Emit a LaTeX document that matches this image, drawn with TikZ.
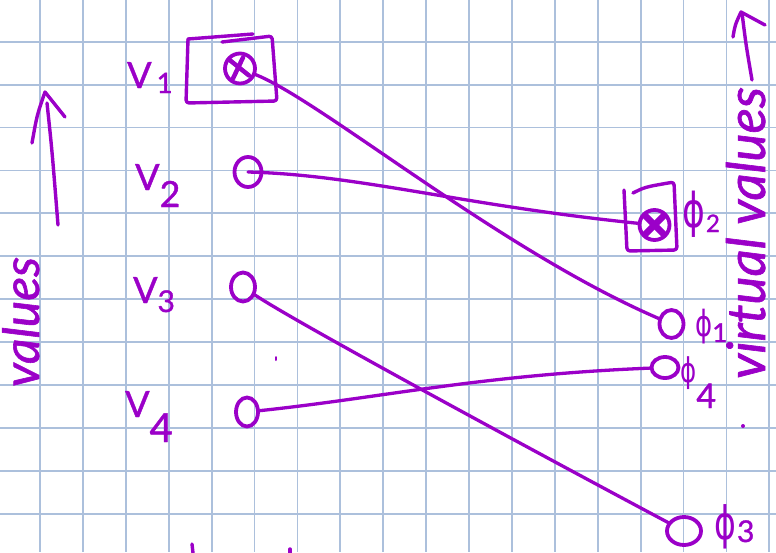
\documentclass[tikz,border=0pt]{standalone}
\usepackage{fontspec}
\setmainfont{Lato}[FakeBold=1.2]
\newfontfamily\phifont{DejaVu Sans}
\usetikzlibrary{shapes.geometric}
\definecolor{ink}{RGB}{155,0,200}
\definecolor{gridblue}{RGB}{172,192,220}
% label with a large, lowered index: #1 symbol, #2 index, #3 drop, #4 gap, #5 index size
\newcommand\sublbl[5]{#1\hspace{#4}\raisebox{-#3}{\fontsize{#5}{#5}\selectfont #2}}
% narrow upright phi
\newcommand\nphi{{\phifont\scalebox{0.72}[1]{ϕ}}}
\begin{document}
\begin{tikzpicture}[x=1pt,y=-1pt,
  pen/.style={draw=ink, line width=3.4pt, line cap=round, line join=round},
  vertex/.style={ellipse, draw=ink, line width=3.8pt, inner sep=0pt},
  edge/.style={draw=ink, line width=3.3pt, line cap=round},
  vlabel/.style={text=ink, inner sep=0pt, anchor=base west, font=\fontsize{36}{36}\selectfont},
  plabel/.style={text=ink, inner sep=0pt, anchor=base west},
  sidetext/.style={text=ink, inner sep=0pt, rotate=90, anchor=base},
]
\useasboundingbox (0,0) rectangle (776,552);
\fill[white] (0,0) rectangle (776,552);

% squared paper
\foreach \k in {0,...,17}
  \draw[gridblue, line width=1.8pt] ({40+42.9*\k},0) -- ({40+42.9*\k},552);
\foreach \k in {0,...,11}
  \draw[gridblue, line width=1.8pt] (0,{41.7+42.9*\k}) -- (776,{41.7+42.9*\k});

% value vertices
\node[vertex, minimum width=30pt, minimum height=30pt] (v1) at (240,68.5) {};
\node[vertex, minimum width=27pt, minimum height=30pt] (v2) at (248,172) {};
\node[vertex, minimum width=24pt, minimum height=29pt] (v3) at (243,287) {};
\node[vertex, minimum width=22pt, minimum height=29pt] (v4) at (247,412) {};

% virtual value vertices
\node[vertex, minimum width=30pt, minimum height=30pt] (p2) at (654.5,225) {};
\node[vertex, minimum width=24pt, minimum height=28pt] (p1) at (671.5,324) {};
\node[vertex, minimum width=27pt, minimum height=21pt] (p4) at (665,367.5) {};
\node[vertex, minimum width=34pt, minimum height=28pt] (p3) at (684,531) {};

% crosses and frames on the selected vertices
\draw[pen, line width=4.5pt] ([shift={(-11,-9)}]v1.center) -- ([shift={(9,7)}]v1.center);
\draw[pen, line width=4.5pt] ([shift={(3,-11)}]v1.center) -- ([shift={(-7,10)}]v1.center);
\draw[pen, rounded corners=3pt] (188,39) -- (186,103) -- (277,101) -- (272,36) -- (222,42);
\draw[pen] (188,39) -- (253,34);

\draw[pen, line width=6.5pt] ([shift={(-9,-9)}]p2.center) -- ([shift={(9,9)}]p2.center);
\draw[pen, line width=6.5pt] ([shift={(9,-9)}]p2.center) -- ([shift={(-9,9)}]p2.center);
\draw[pen, rounded corners=3pt] (633,193) .. controls (645,187) .. (674,182) -- (677,250) -- (627,251) -- (624,190);

% assignments
\draw[edge] (v1) .. controls (320,100) and (500,250) .. (p1);
\draw[edge] (v2.center) .. controls (360,175) and (460,205) .. (p2);
\draw[edge] (v3) .. controls (300,325) and (560,465) .. (p3);
\draw[edge] (v4) .. controls (380,398) and (480,375) .. (p4);

% vertex labels
\node[vlabel] (l1) at (127,88) {\sublbl{V}{1}{5pt}{5pt}{28pt}};
\node[vlabel] (l2) at (135,190) {\sublbl{V}{2}{17pt}{0pt}{36pt}};
\node[vlabel] (l3) at (133,303) {\sublbl{V}{3}{9pt}{0pt}{30pt}};
\node[vlabel] (l4) at (125,417) {\sublbl{V}{4}{25pt}{0pt}{40pt}};

\node[plabel, font=\fontsize{48}{48}\selectfont] (q2) at (682,227) {\sublbl{\nphi}{2}{5pt}{1pt}{24pt}};
\node[plabel, font=\fontsize{36}{36}\selectfont] (q1) at (695,336) {\sublbl{\nphi}{1}{6pt}{0pt}{26pt}};
\node[plabel, font=\fontsize{34}{34}\selectfont] (q4) at (680,382) {\sublbl{\nphi}{4}{26pt}{0pt}{34pt}};
\node[plabel, font=\fontsize{46}{46}\selectfont] (q3) at (714,539) {\sublbl{\nphi}{3}{3pt}{1pt}{30pt}};

% axis captions with arrows
\node[sidetext, font=\fontsize{50}{50}\selectfont\itshape] (vals) at (39,322) {values};
\draw[pen] (47,103) .. controls (52,150) .. (58,225);
\draw[pen] (32,143) .. controls (37,115) .. (45,92) -- (65,117);

\node[sidetext, font=\fontsize{53}{53}\selectfont\itshape] (vvals) at (765,233) {virtual values};
\draw[pen] (742,13) .. controls (746,45) .. (752,80);
\draw[pen] (733,37) .. controls (735,25) .. (741,12) -- (765,25);

% stray pen marks
\fill[ink] (743,426) circle (2);
\draw[pen, line width=2pt] (276,357) -- (276,360);
\draw[pen] (192,544) -- (193,553);
\draw[pen] (290,549) -- (290,553);
\end{tikzpicture}
\end{document}
